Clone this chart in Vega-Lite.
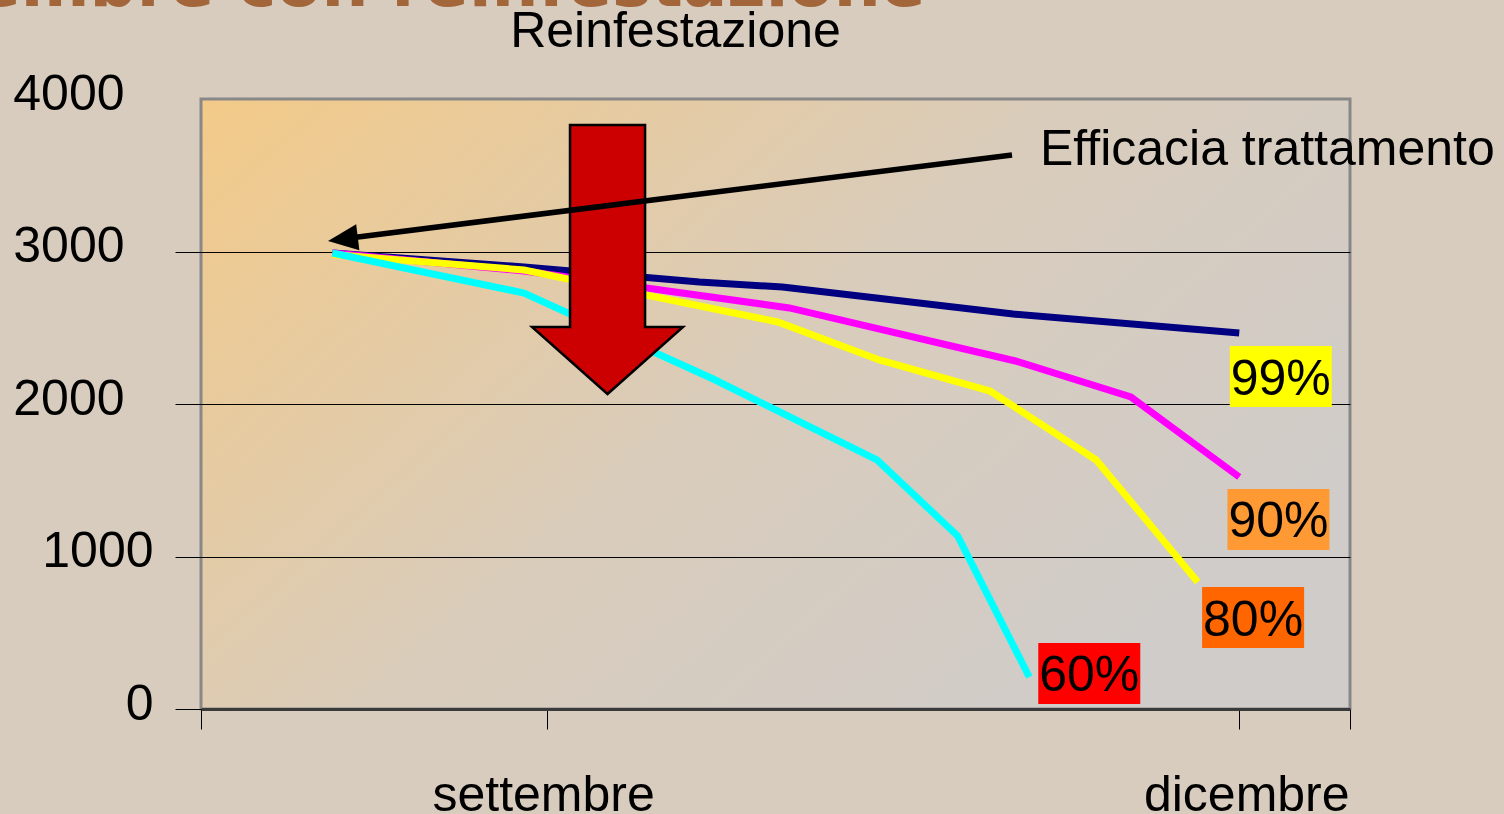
{
  "$schema": "https://vega.github.io/schema/vega-lite/v6.json",
  "width": 1149,
  "height": 610,
  "autosize": {"type": "none"},
  "padding": {"left": 201, "top": 99, "right": 154, "bottom": 105},
  "background": "#D8CCBE",
  "view": {
    "stroke": "#888888",
    "strokeWidth": 3,
    "fill": {
      "gradient": "linear",
      "x1": 0, "y1": 0, "x2": 1, "y2": 0.6,
      "stops": [
        {"offset": 0, "color": "#F3CA88"},
        {"offset": 0.55, "color": "#D9CCBB"},
        {"offset": 1, "color": "#D0CCC9"}
      ]
    }
  },
  "title": {
    "text": "Reinfestazione",
    "font": "Liberation Sans",
    "fontSize": 50,
    "fontWeight": "normal",
    "color": "black",
    "anchor": "middle",
    "frame": "group",
    "dx": -100,
    "offset": -104
  },
  "datasets": {
    "curve": [
      {"serie": "99%", "mese": 8.07, "valore": 2990},
      {"serie": "99%", "mese": 8.90, "valore": 2898},
      {"serie": "99%", "mese": 9.66, "valore": 2800},
      {"serie": "99%", "mese": 10.02, "valore": 2767},
      {"serie": "99%", "mese": 11.02, "valore": 2590},
      {"serie": "99%", "mese": 12.00, "valore": 2466},
      {"serie": "90%", "mese": 8.07, "valore": 2990},
      {"serie": "90%", "mese": 8.90, "valore": 2872},
      {"serie": "90%", "mese": 10.05, "valore": 2630},
      {"serie": "90%", "mese": 11.03, "valore": 2282},
      {"serie": "90%", "mese": 11.53, "valore": 2046},
      {"serie": "90%", "mese": 12.00, "valore": 1521},
      {"serie": "80%", "mese": 8.07, "valore": 2980},
      {"serie": "80%", "mese": 8.90, "valore": 2879},
      {"serie": "80%", "mese": 10.00, "valore": 2538},
      {"serie": "80%", "mese": 10.44, "valore": 2289},
      {"serie": "80%", "mese": 10.92, "valore": 2085},
      {"serie": "80%", "mese": 11.38, "valore": 1633},
      {"serie": "80%", "mese": 11.82, "valore": 833},
      {"serie": "60%", "mese": 8.07, "valore": 2990},
      {"serie": "60%", "mese": 8.90, "valore": 2728},
      {"serie": "60%", "mese": 9.72, "valore": 2164},
      {"serie": "60%", "mese": 10.43, "valore": 1633},
      {"serie": "60%", "mese": 10.78, "valore": 1134},
      {"serie": "60%", "mese": 11.09, "valore": 210}
    ],
    "etichette": [
      {"serie": "99%", "mese": 12.18, "valore": 2180},
      {"serie": "90%", "mese": 12.17, "valore": 1243},
      {"serie": "80%", "mese": 12.06, "valore": 600},
      {"serie": "60%", "mese": 11.35, "valore": 233}
    ],
    "uno": [{}]
  },
  "layer": [
    {
      "data": {"name": "uno"},
      "mark": {"type": "text", "text": "Da settembre a dicembre con reinfestazione", "font": "DejaVu Sans", "fontWeight": "bold", "fontSize": 66, "color": "#A3663A", "align": "right", "baseline": "alphabetic"},
      "encoding": {
        "x": {"datum": 10.64, "type": "quantitative", "scale": {"domain": [7.5, 12.48], "nice": false, "zero": false}},
        "y": {"datum": 4610, "type": "quantitative", "scale": {"domain": [0, 4000], "nice": false}}
      }
    },
    {
      "data": {"name": "curve"},
      "mark": {"type": "line", "strokeWidth": 7, "strokeCap": "butt", "strokeJoin": "miter"},
      "encoding": {
        "x": {
          "field": "mese", "type": "quantitative",
          "scale": {"domain": [7.5, 12.48], "nice": false, "zero": false},
          "axis": {
            "title": null,
            "values": [7.5, 9, 12, 12.48],
            "labelExpr": "datum.value == 9 ? 'settembre' : (datum.value == 12 ? 'dicembre' : '')",
            "grid": false,
            "tickSize": 20,
            "tickColor": "black",
            "tickWidth": 1,
            "domainColor": "#3a3a3a",
            "domainWidth": 3,
            "labelFont": "Liberation Sans",
            "labelFontSize": 50,
            "labelColor": "black",
            "labelPadding": 41,
            "labelOffset": {"condition": {"test": "datum.value == 12", "value": 7}, "value": -4},
            "labelLimit": 0,
            "labelOverlap": false,
            "labelFlush": false,
            "labelBound": false
          }
        },
        "y": {
          "field": "valore", "type": "quantitative",
          "scale": {"domain": [0, 4000], "nice": false},
          "axis": {
            "title": null,
            "values": [0, 1000, 2000, 3000, 4000],
            "format": "d",
            "grid": true,
            "gridColor": "black",
            "gridWidth": 1,
            "gridOpacity": {"condition": {"test": "datum.value == 0 || datum.value == 4000", "value": 0}, "value": 1},
            "domain": false,
            "tickSize": 26,
            "tickColor": "black",
            "tickWidth": 1,
            "tickOpacity": {"condition": {"test": "datum.value == 4000", "value": 0}, "value": 1},
            "labelFont": "Liberation Sans",
            "labelFontSize": 50,
            "labelColor": "black",
            "labelLimit": 0,
            "labelPadding": {"condition": {"test": "datum.value <= 1000", "value": 22}, "value": 51},
            "labelOffset": -5
          }
        },
        "color": {
          "field": "serie", "type": "nominal",
          "scale": {"domain": ["99%", "90%", "80%", "60%"], "range": ["#000080", "#FF00FF", "#FFFF00", "#00FFFF"]},
          "legend": null
        }
      }
    },
    {
      "data": {"name": "uno"},
      "mark": {"type": "point", "shape": "M-0.279,-1L0.279,-1L0.279,0.502L0.561,0.502L0,1L-0.561,0.502L-0.279,0.502Z", "size": 72361, "filled": true, "fill": "#CC0000", "stroke": "black", "strokeWidth": 2.5, "opacity": 1, "fillOpacity": 1, "strokeOpacity": 1},
      "encoding": {
        "x": {"datum": 9.262, "type": "quantitative"},
        "y": {"datum": 2947.5, "type": "quantitative"}
      }
    },
    {
      "data": {"name": "uno"},
      "mark": {"type": "rule", "color": "black", "strokeWidth": 5.5},
      "encoding": {
        "x": {"datum": 8.146, "type": "quantitative"},
        "x2": {"datum": 11.015},
        "y": {"datum": 3089, "type": "quantitative"},
        "y2": {"datum": 3633}
      }
    },
    {
      "data": {"name": "uno"},
      "mark": {"type": "point", "shape": "M-1,0L1,-0.87L1,0.87Z", "size": 900, "angle": -7, "filled": true, "color": "black", "opacity": 1},
      "encoding": {
        "x": {"datum": 8.115, "type": "quantitative"},
        "y": {"datum": 3081, "type": "quantitative"}
      }
    },
    {
      "data": {"name": "uno"},
      "mark": {"type": "text", "text": "Efficacia trattamento", "font": "Liberation Sans", "fontSize": 50, "color": "black", "align": "left", "baseline": "alphabetic"},
      "encoding": {
        "x": {"datum": 11.136, "type": "quantitative"},
        "y": {"datum": 3567, "type": "quantitative"}
      }
    },
    {
      "data": {"name": "etichette"},
      "mark": {"type": "point", "shape": "M-1,-0.598L1,-0.598L1,0.598L-1,0.598Z", "size": 10404, "filled": true, "opacity": 1, "strokeWidth": 0},
      "encoding": {
        "x": {"field": "mese", "type": "quantitative"},
        "y": {"field": "valore", "type": "quantitative"},
        "fill": {
          "field": "serie", "type": "nominal",
          "scale": {"domain": ["99%", "90%", "80%", "60%"], "range": ["#FFFF00", "#FF9933", "#FF6600", "#FF0000"]},
          "legend": null
        }
      }
    },
    {
      "data": {"name": "etichette"},
      "mark": {"type": "text", "font": "Liberation Sans", "fontSize": 50, "color": "black", "align": "center", "baseline": "middle", "dy": 3},
      "encoding": {
        "x": {"field": "mese", "type": "quantitative"},
        "y": {"field": "valore", "type": "quantitative"},
        "text": {"field": "serie"}
      }
    }
  ],
  "config": {
    "font": "Liberation Sans"
  }
}
